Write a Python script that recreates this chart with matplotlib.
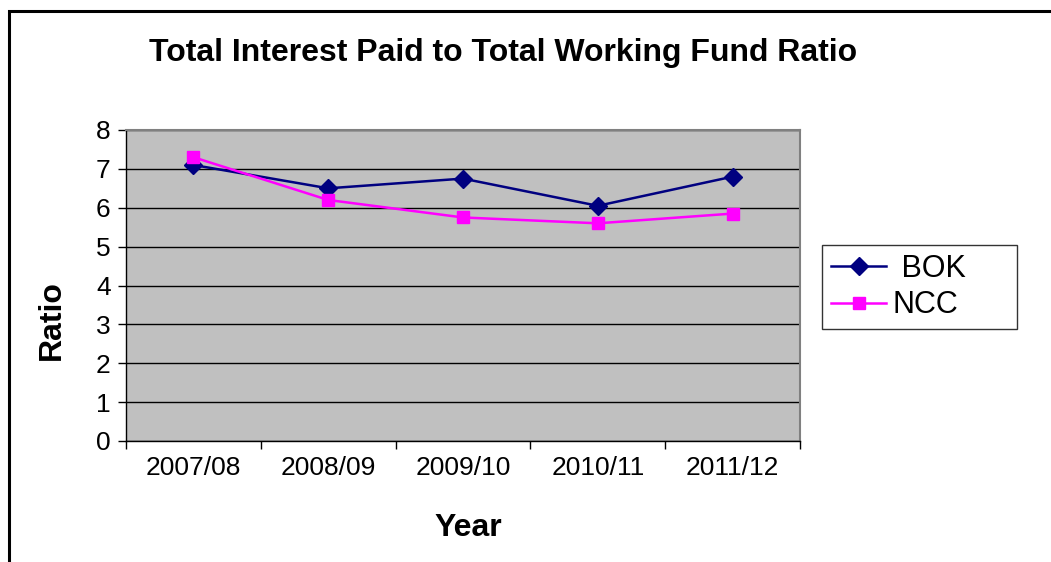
import matplotlib
matplotlib.use("Agg")
import matplotlib.pyplot as plt
from matplotlib.patches import Rectangle
import numpy as np

years = ["2007/08", "2008/09", "2009/10", "2010/11", "2011/12"]
bok = [7.1, 6.5, 6.75, 6.05, 6.8]
ncc = [7.3, 6.2, 5.75, 5.6, 5.85]
yticks = [0, 1, 2, 3, 4, 5, 6, 7, 8]

plt.rcParams['font.family'] = ['Liberation Sans', 'DejaVu Sans']

W, H = 1051, 562
fig = plt.figure(figsize=(W / 100, H / 100), dpi=100)
fig.patch.set_facecolor('white')

# outer chart border
fig.patches.append(Rectangle((9 / W, -0.1), 1.2, 1 - 11 / H + 0.1, transform=fig.transFigure,
                             fill=False, edgecolor='black', linewidth=2.2, zorder=0))

ax = fig.add_axes([126 / W, 1 - 441 / H, (800 - 126) / W, (441 - 130) / H])
ax.set_facecolor('#C0C0C0')
x = np.arange(len(years))
ax.plot(x, bok, color='#000080', marker='D', markersize=9, linewidth=1.8, label=' BOK', zorder=3)
ax.plot(x, ncc, color='#FF00FF', marker='s', markersize=9, linewidth=1.8, label='NCC', zorder=3)

ax.set_xlim(-0.5, len(years) - 0.5)
ax.set_ylim(0, 8)
ax.set_yticks(yticks)
ax.set_xticks(x)
ax.set_xticklabels(years)
ax.set_xticks(np.arange(-0.5, len(years), 1), minor=True)
ax.tick_params(axis='x', which='major', length=0, labelsize=19, pad=11)
ax.tick_params(axis='x', which='minor', length=6, width=1, color='black')
ax.tick_params(axis='y', labelsize=19, length=6, width=1, pad=5)
ax.grid(axis='y', color='black', linewidth=1)
ax.set_axisbelow(True)
for s in ['top', 'right']:
    ax.spines[s].set_color('#808080')
    ax.spines[s].set_linewidth(1.5)
for s in ['left', 'bottom']:
    ax.spines[s].set_color('black')
    ax.spines[s].set_linewidth(1)

ax.set_xlabel('Year', fontsize=23, fontweight='bold')
ax.set_ylabel('Ratio', fontsize=23, fontweight='bold')
ax.xaxis.set_label_coords((468 - 126) / (800 - 126), -(528 - 441) / (441 - 130))
ax.yaxis.set_label_coords(-(126 - 52) / (800 - 126), (441 - 320) / (441 - 130))
ax.xaxis.label.set_va('center')
ax.yaxis.label.set_va('center')

fig.text(503 / W, 1 - 53 / H, 'Total Interest Paid to Total Working Fund Ratio',
         ha='center', va='center', fontsize=23, fontweight='bold')

leg = fig.legend(loc='upper left',
                 bbox_to_anchor=(822 / W, 1 - 327 / H, (1017 - 822) / W, (327 - 245) / H),
                 mode='expand', fontsize=22,
                 frameon=True, fancybox=False, edgecolor='black', handlelength=1.8,
                 borderpad=0.3, labelspacing=0.2, handletextpad=0.22, borderaxespad=0)
leg.get_frame().set_linewidth(1)

fig.savefig('out.png', dpi=100)
